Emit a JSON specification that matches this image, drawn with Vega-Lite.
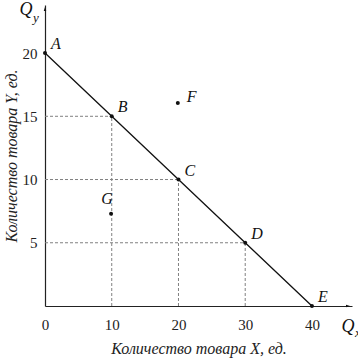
{
  "$schema": "https://vega.github.io/schema/vega-lite/v6.json",
  "width": 307,
  "height": 301,
  "autosize": {"type": "none"},
  "padding": {"left": 45, "top": 5, "right": 6, "bottom": 52},
  "background": "white",
  "config": {
    "view": {"stroke": null},
    "font": "Times New Roman, Liberation Serif, serif",
    "text": {"font": "Times New Roman, Liberation Serif, serif"}
  },
  "datasets": {
    "guides": [
      {"x": 0, "y": 15, "x2": 10, "y2": 15},
      {"x": 10, "y": 0, "x2": 10, "y2": 15},
      {"x": 0, "y": 10, "x2": 20, "y2": 10},
      {"x": 20, "y": 0, "x2": 20, "y2": 10},
      {"x": 0, "y": 5, "x2": 30, "y2": 5},
      {"x": 30, "y": 0, "x2": 30, "y2": 5}
    ],
    "points": [
      {"name": "A", "x": 0, "y": 20, "ppf": true},
      {"name": "B", "x": 10, "y": 15, "ppf": true},
      {"name": "C", "x": 20, "y": 10, "ppf": true},
      {"name": "D", "x": 30, "y": 5, "ppf": true},
      {"name": "E", "x": 40, "y": 0, "ppf": true},
      {"name": "F", "x": 19.9, "y": 16.05, "ppf": false},
      {"name": "G", "x": 9.9, "y": 7.3, "ppf": false}
    ],
    "arrows": [
      {"k": "up", "x": 0, "y": 23.8},
      {"k": "right", "x": 46, "y": 0}
    ]
  },
  "layer": [
    {
      "data": {"name": "guides"},
      "mark": {"type": "rule", "color": "#808080", "strokeDash": [3, 2], "strokeWidth": 1},
      "encoding": {
        "x": {
          "field": "x", "type": "quantitative",
          "scale": {"domain": [0, 46], "nice": false, "zero": false},
          "axis": {
            "values": [0, 10, 20, 30, 40],
            "grid": false, "ticks": false,
            "domain": true, "domainColor": "#222", "domainWidth": 1.2,
            "labelFont": "Times New Roman, Liberation Serif, serif", "labelFontSize": 15, "labelColor": "#222",
            "labelPadding": 11, "labelFlush": false,
            "title": "Количество товара X, ед.",
            "titleFont": "Times New Roman, Liberation Serif, serif", "titleFontSize": 16, "titleFontStyle": "italic",
            "titleFontWeight": "normal", "titleColor": "#222", "titlePadding": 8
          }
        },
        "y": {
          "field": "y", "type": "quantitative",
          "scale": {"domain": [0, 23.8], "nice": false, "zero": false},
          "axis": {
            "values": [5, 10, 15, 20],
            "grid": false, "ticks": false,
            "domain": true, "domainColor": "#222", "domainWidth": 1.2,
            "labelFont": "Times New Roman, Liberation Serif, serif", "labelFontSize": 15, "labelColor": "#222",
            "labelPadding": 8,
            "title": "Количество товара Y, ед.",
            "titleFont": "Times New Roman, Liberation Serif, serif", "titleFontSize": 16, "titleFontStyle": "italic",
            "titleFontWeight": "normal", "titleColor": "#222", "titlePadding": 3
          }
        },
        "x2": {"field": "x2"},
        "y2": {"field": "y2"}
      }
    },
    {
      "data": {"name": "points"},
      "transform": [{"filter": "datum.ppf"}],
      "mark": {"type": "line", "color": "#111", "strokeWidth": 1.3},
      "encoding": {
        "x": {"field": "x", "type": "quantitative"},
        "y": {"field": "y", "type": "quantitative"},
        "order": {"field": "x"}
      }
    },
    {
      "data": {"name": "points"},
      "mark": {"type": "point", "filled": true, "color": "#111", "size": 16, "opacity": 1},
      "encoding": {
        "x": {"field": "x", "type": "quantitative"},
        "y": {"field": "y", "type": "quantitative"}
      }
    },
    {
      "data": {"name": "points"},
      "transform": [{"filter": "datum.ppf"}],
      "mark": {"type": "text", "fontStyle": "italic", "fontSize": 16, "color": "#111", "align": "left", "baseline": "middle", "dx": 6, "dy": -9},
      "encoding": {
        "x": {"field": "x", "type": "quantitative"},
        "y": {"field": "y", "type": "quantitative"},
        "text": {"field": "name"}
      }
    },
    {
      "data": {"name": "points"},
      "transform": [{"filter": "datum.name == 'F'"}],
      "mark": {"type": "text", "fontStyle": "italic", "fontSize": 16, "color": "#111", "align": "left", "baseline": "middle", "dx": 9, "dy": -6},
      "encoding": {
        "x": {"field": "x", "type": "quantitative"},
        "y": {"field": "y", "type": "quantitative"},
        "text": {"field": "name"}
      }
    },
    {
      "data": {"name": "points"},
      "transform": [{"filter": "datum.name == 'G'"}],
      "mark": {"type": "text", "fontStyle": "italic", "fontSize": 16, "color": "#111", "align": "center", "baseline": "middle", "dx": -4, "dy": -15},
      "encoding": {
        "x": {"field": "x", "type": "quantitative"},
        "y": {"field": "y", "type": "quantitative"},
        "text": {"field": "name"}
      }
    },
    {
      "data": {"name": "arrows"},
      "transform": [{"filter": "datum.k == 'up'"}],
      "mark": {"type": "point", "filled": true, "color": "#111", "opacity": 1, "size": 64, "shape": "M0,-0.5L0.32,0.5L-0.32,0.5Z", "yOffset": 4},
      "encoding": {
        "x": {"field": "x", "type": "quantitative"},
        "y": {"field": "y", "type": "quantitative"}
      }
    },
    {
      "data": {"name": "arrows"},
      "transform": [{"filter": "datum.k == 'right'"}],
      "mark": {"type": "point", "filled": true, "color": "#111", "opacity": 1, "size": 64, "shape": "M0.5,0L-0.5,0.32L-0.5,-0.32Z", "xOffset": -4},
      "encoding": {
        "x": {"field": "x", "type": "quantitative"},
        "y": {"field": "y", "type": "quantitative"}
      }
    },
    {
      "data": {"name": "arrows"},
      "transform": [{"filter": "datum.k == 'up'"}],
      "mark": {"type": "text", "text": "Q", "fontStyle": "italic", "fontSize": 18, "color": "#111", "align": "center", "baseline": "middle", "dx": -19, "dy": 5},
      "encoding": {
        "x": {"field": "x", "type": "quantitative"},
        "y": {"field": "y", "type": "quantitative"}
      }
    },
    {
      "data": {"name": "arrows"},
      "transform": [{"filter": "datum.k == 'up'"}],
      "mark": {"type": "text", "text": "y", "fontStyle": "italic", "fontSize": 13, "color": "#111", "align": "left", "baseline": "middle", "dx": -12, "dy": 13},
      "encoding": {
        "x": {"field": "x", "type": "quantitative"},
        "y": {"field": "y", "type": "quantitative"}
      }
    },
    {
      "data": {"name": "arrows"},
      "transform": [{"filter": "datum.k == 'right'"}],
      "mark": {"type": "text", "text": "Q", "fontStyle": "italic", "fontSize": 18, "color": "#111", "align": "center", "baseline": "middle", "dx": -4, "dy": 21},
      "encoding": {
        "x": {"field": "x", "type": "quantitative"},
        "y": {"field": "y", "type": "quantitative"}
      }
    },
    {
      "data": {"name": "arrows"},
      "transform": [{"filter": "datum.k == 'right'"}],
      "mark": {"type": "text", "text": "x", "fontStyle": "italic", "fontSize": 13, "color": "#111", "align": "left", "baseline": "middle", "dx": 3, "dy": 27},
      "encoding": {
        "x": {"field": "x", "type": "quantitative"},
        "y": {"field": "y", "type": "quantitative"}
      }
    }
  ]
}
